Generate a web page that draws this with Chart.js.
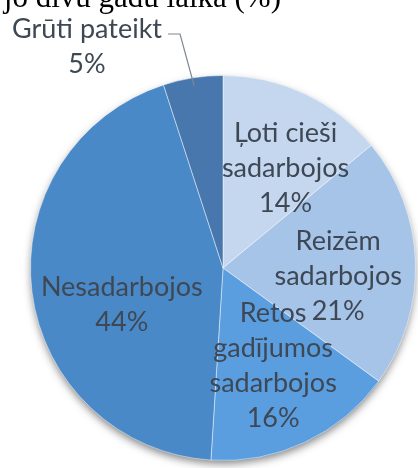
<!DOCTYPE html>
<html>
<head>
<meta charset="utf-8">
<script src="https://cdn.jsdelivr.net/npm/chart.js"></script>
<style>
  html, body { margin: 0; padding: 0; background: #fff; }
  #wrap { width: 418px; height: 468px; position: relative; }
</style>
</head>
<body>
<div id="wrap"><canvas id="pieChart" width="418" height="468"></canvas></div>
<script>
const titleText = "jo divu gadu laikā (%)";

const categories = [
  ["Ļoti cieši", "sadarbojos"],
  ["Reizēm", "sadarbojos"],
  ["Retos", "gadījumos", "sadarbojos"],
  ["Nesadarbojos"],
  ["Grūti pateikt"]
];

const shares = [14, 21, 16, 44, 5];

const sliceColors = ["#c5d7ee", "#a6c3e8", "#5a9ee0", "#4a89c8", "#4777ad"];

// label placement: angle shift (deg) from the slice middle, radius fraction
const labelPlace = [
  { da: 7, rf: 0.61 },
  { da: 6, rf: 0.60 },
  { da: -2, rf: 0.57 },
  { da: -13, rf: 0.56 },
  { outside: true }
];

const lineGap = 35;

const labelPlugin = {
  id: "sliceLabels",
  beforeDatasetsDraw(chart) {
    const arc = chart.getDatasetMeta(0).data[0];
    const ctx = chart.ctx;
    ctx.save();
    ctx.shadowColor = "rgba(0,0,0,0.5)";
    ctx.shadowBlur = 8;
    ctx.shadowOffsetY = 4;
    ctx.fillStyle = "#ffffff";
    ctx.beginPath();
    ctx.arc(arc.x, arc.y, arc.outerRadius - 1, 0, Math.PI * 2);
    ctx.fill();
    ctx.restore();
  },
  afterDatasetsDraw(chart) {
    const ctx = chart.ctx;
    const meta = chart.getDatasetMeta(0);
    ctx.save();
    ctx.font = "27px Lato";
    ctx.fillStyle = "#3e4855";
    ctx.textAlign = "center";
    ctx.textBaseline = "middle";
    meta.data.forEach((a, i) => {
      const lines = categories[i].slice();
      const pct = shares[i] + "%";
      const place = labelPlace[i];
      const mid = (a.startAngle + a.endAngle) / 2;
      if (place.outside) {
        const lx = 87, ly = 29;
        ctx.fillText(lines[0], lx, ly);
        ctx.fillText(pct, lx, ly + lineGap);
        const w = ctx.measureText(lines[0]).width;
        const ex = a.x + Math.cos(mid) * (a.outerRadius - 8);
        const ey = a.y + Math.sin(mid) * (a.outerRadius - 8);
        ctx.strokeStyle = "#7f8790";
        ctx.lineWidth = 1.2;
        ctx.beginPath();
        ctx.moveTo(lx + w / 2 + 6, ly + 5);
        ctx.lineTo(lx + w / 2 + 18, ly + 5);
        ctx.lineTo(ex, ey);
        ctx.stroke();
        return;
      }
      const ang = mid + place.da * Math.PI / 180;
      const cx = a.x + Math.cos(ang) * a.outerRadius * place.rf;
      const cy = a.y + Math.sin(ang) * a.outerRadius * place.rf;
      lines.push(pct);
      const top = cy - (lines.length - 1) * lineGap / 2;
      lines.forEach((t, k) => ctx.fillText(t, cx, top + k * lineGap));
    });
    ctx.restore();

    ctx.save();
    ctx.font = "31px 'Liberation Serif'";
    ctx.fillStyle = "#000";
    ctx.textAlign = "right";
    ctx.textBaseline = "alphabetic";
    ctx.fillText(titleText, 281, 7);
    ctx.restore();
  }
};

new Chart(document.getElementById("pieChart"), {
  type: "pie",
  data: {
    labels: categories.map(c => c.join(" ")),
    datasets: [{
      data: shares,
      backgroundColor: sliceColors,
      borderColor: "rgba(255,255,255,0.45)",
      borderWidth: 1
    }]
  },
  options: {
    responsive: false,
    animation: false,
    layout: { padding: { left: 30, right: 2, top: 75, bottom: 7 } },
    plugins: {
      legend: { display: false },
      tooltip: { enabled: false }
    }
  },
  plugins: [labelPlugin]
});
</script>
</body>
</html>
